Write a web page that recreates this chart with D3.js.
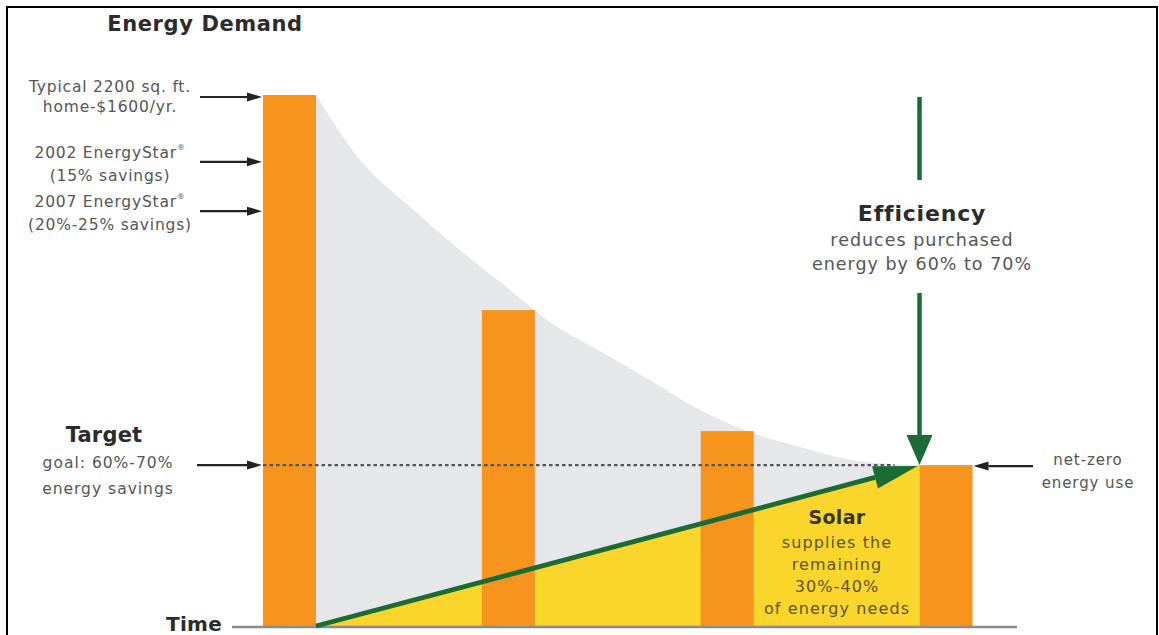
<!DOCTYPE html>
<html>
<head>
<meta charset="utf-8">
<script src="https://cdn.jsdelivr.net/npm/d3@7"></script>
<style>
  html, body { margin: 0; padding: 0; background: #fff; }
  svg { display: block; }
  text { font-family: "DejaVu Sans", "Open Sans", sans-serif; }
</style>
</head>
<body>
<svg id="chart" width="1159" height="635"></svg>
<script>
// Stages along the time axis (0 = typical home today, 3 = net-zero home)
const stageTime = [0, 1, 2, 3];
// Purchased energy demand, typical home = 100
const stageDemand = [100, 59.5, 36.7, 30.3];
// Outline of the shaded demand reduction area (time, demand)
const demandCurve = [
  [0.121, 100], [0.322, 87.8], [0.551, 78.9], [0.779, 70.8], [1.008, 63.3],
  [1.158, 58.2], [1.465, 50.7], [1.647, 46.3], [1.876, 40.7], [2.118, 36.3],
  [2.333, 33.7], [2.561, 31.3], [2.79, 30.4], [2.88, 30.3]
];
// Target demand after 60%-70% savings
const targetDemand = 30.3;
// Reference levels marked on the left
const levelDemand = [100, 87.8, 78.5];
const levelLabels = [
  ["Typical 2200 sq. ft.", "home-$1600/yr."],
  ["2002 EnergyStar\u00AE", "(15% savings)"],
  ["2007 EnergyStar\u00AE", "(20%-25% savings)"]
];
const targetLabels = ["goal: 60%-70%", "energy savings"];
const efficiencyLabels = ["reduces purchased", "energy by 60% to 70%"];
const solarLabels = ["supplies the", "remaining", "30%-40%", "of energy needs"];
const netZeroLabels = ["net-zero", "energy use"];

const COLORS = {
  bar: "#F7941D",
  solar: "#FAD52B",
  savings: "#E6E7EA",
  green: "#1B6B36",
  text: "#555555",
  dark: "#2b2b2b",
  axis: "#8c8c8c"
};

const svg = d3.select("#chart");

// frame
svg.append("rect")
  .attr("x", 7).attr("y", 7).attr("width", 1150).attr("height", 660)
  .attr("fill", "none").attr("stroke", "#000").attr("stroke-width", 2);

const x = d3.scaleLinear().domain([0, 3]).range([289.5, 946]);
const y = d3.scaleLinear().domain([0, 100]).range([626, 95]);
const barHalf = 0.121;   // half bar width in time units

// grey savings area under the demand curve
const area = d3.area()
  .x(d => x(d[0]))
  .y0(y(0))
  .y1(d => y(d[1]))
  .curve(d3.curveMonotoneX);
svg.append("path")
  .datum(demandCurve)
  .attr("d", area)
  .attr("fill", COLORS.savings);

// yellow solar wedge
const solarStart = [stageTime[0] + barHalf, 0];
const solarEnd = [stageTime[3] - barHalf, targetDemand];
svg.append("path")
  .datum([solarStart, solarEnd, [solarEnd[0], 0]])
  .attr("d", d3.line().x(d => x(d[0])).y(d => y(d[1])))
  .attr("fill", COLORS.solar);

// bars
svg.selectAll("rect.bar")
  .data(stageTime.map((t, i) => ({ t, v: stageDemand[i] })))
  .join("rect")
  .attr("class", "bar")
  .attr("x", d => x(d.t - barHalf))
  .attr("width", d => x(d.t + barHalf) - x(d.t - barHalf))
  .attr("y", d => y(d.v))
  .attr("height", d => y(0) - y(d.v))
  .attr("fill", COLORS.bar);

// time axis baseline
svg.append("line")
  .attr("x1", 232).attr("x2", 1017)
  .attr("y1", y(0) + 1).attr("y2", y(0) + 1)
  .attr("stroke", COLORS.axis).attr("stroke-width", 2.5);

// dotted target line
svg.append("line")
  .attr("x1", x(stageTime[0] - barHalf)).attr("x2", x(solarEnd[0]) - 25)
  .attr("y1", y(targetDemand)).attr("y2", y(targetDemand))
  .attr("stroke", "#555").attr("stroke-width", 2.2)
  .attr("stroke-dasharray", "3.5,3");

// arrow helper: shaft + triangular head ending at (x2, y2)
function arrow(g, x1, y1, x2, y2, color, width, headLen, headW) {
  const ang = Math.atan2(y2 - y1, x2 - x1);
  const bx = x2 - headLen * Math.cos(ang), by = y2 - headLen * Math.sin(ang);
  g.append("line")
    .attr("x1", x1).attr("y1", y1).attr("x2", bx).attr("y2", by)
    .attr("stroke", color).attr("stroke-width", width);
  const px = -Math.sin(ang) * headW / 2, py = Math.cos(ang) * headW / 2;
  g.append("path")
    .attr("d", `M${x2},${y2}L${bx + px},${by + py}L${bx - px},${by - py}Z`)
    .attr("fill", color);
}

// green solar arrow
arrow(svg, x(solarStart[0]), y(0), x(solarEnd[0]) - 2, y(solarEnd[1]) + 1,
  COLORS.green, 4.8, 44, 23);

// green efficiency arrow (vertical, split around its label)
const effX = x(solarEnd[0]);
svg.append("line")
  .attr("x1", effX).attr("x2", effX).attr("y1", 97).attr("y2", 180)
  .attr("stroke", COLORS.green).attr("stroke-width", 4.5);
arrow(svg, effX, 293, effX, y(targetDemand), COLORS.green, 4.5, 30, 26);

// black level arrows pointing at the first bar
const barLeft = x(stageTime[0] - barHalf);
levelDemand.forEach(v => arrow(svg, 200, y(v) + 2, barLeft - 1, y(v) + 2, "#222", 2.2, 15, 9));
arrow(svg, 197, y(targetDemand), barLeft - 1, y(targetDemand), "#222", 2.2, 15, 9);
arrow(svg, 1033, y(targetDemand) + 1, x(stageTime[3] + barHalf) + 1, y(targetDemand) + 1, "#222", 2.2, 15, 9);

// text helper; a trailing ® is set as a small superscript
function lines(g, cx, ys, arr, size, color, weight, spacing) {
  arr.forEach((s, i) => {
    const t = g.append("text")
      .attr("x", cx).attr("y", ys[i])
      .attr("text-anchor", "middle")
      .attr("dominant-baseline", "central")
      .attr("font-size", size)
      .attr("font-weight", weight || "normal")
      .attr("letter-spacing", spacing || 0)
      .attr("fill", color);
    if (s.endsWith("\u00AE")) {
      t.append("tspan").text(s.slice(0, -1));
      t.append("tspan").attr("font-size", size * 0.5).attr("dy", -6).text("\u00AE");
    } else {
      t.text(s);
    }
  });
}

// headings
lines(svg, 205, [24], ["Energy Demand"], 21, COLORS.dark, "bold", 0.6);
lines(svg, 104, [435], ["Target"], 21, COLORS.dark, "bold", 0.2);
lines(svg, 194, [624], ["Time"], 20, COLORS.dark, "bold", 0.3);

// level labels
const levelYs = [[87, 107], [153, 176], [202, 225]];
levelLabels.forEach((l, i) => lines(svg, 110, levelYs[i], l, 15.5, COLORS.text, "normal", 0.8));
lines(svg, 108, [463, 489], targetLabels, 15.5, COLORS.text, "normal", 1);

// efficiency
lines(svg, 922, [213], ["Efficiency"], 22, COLORS.dark, "bold", 0.8);
lines(svg, 922, [240, 264], efficiencyLabels, 17.5, COLORS.text, "normal", 1);

// solar
lines(svg, 837, [517], ["Solar"], 19, "#3a3520", "bold", 0.3);
lines(svg, 837, [542, 564, 586, 608], solarLabels, 16, "#5e5530", "normal", 1.1);

// net-zero
lines(svg, 1088, [460, 483], netZeroLabels, 15, COLORS.text, "normal", 0.9);
</script>
</body>
</html>
